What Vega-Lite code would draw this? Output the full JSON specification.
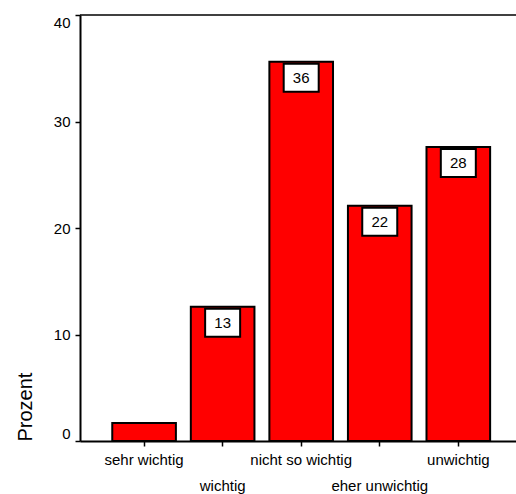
{
  "$schema": "https://vega.github.io/schema/vega-lite/v6.json",
  "width": 436,
  "height": 426,
  "autosize": {"type": "none"},
  "padding": {"left": 80, "top": 15, "right": 0, "bottom": 53},
  "background": "white",
  "config": {"view": {"stroke": null}, "font": "Liberation Sans"},
  "data": {
    "values": [
      {"Kategorie": "sehr wichtig", "Prozent": 1.7},
      {"Kategorie": "wichtig", "Prozent": 12.6},
      {"Kategorie": "nicht so wichtig", "Prozent": 35.6},
      {"Kategorie": "eher unwichtig", "Prozent": 22.1},
      {"Kategorie": "unwichtig", "Prozent": 27.6}
    ]
  },
  "layer": [
    {
      "mark": {"type": "bar", "fill": "#ff0000", "stroke": "black", "strokeWidth": 2},
      "encoding": {
        "x": {
          "field": "Kategorie", "type": "nominal", "sort": null,
          "scale": {"paddingInner": 0.19, "paddingOuter": 0.37, "align": 0.555},
          "axis": {
            "title": null, "labelAngle": 0, "labelFontSize": 15, "labelColor": "black",
            "tickSize": 5, "tickColor": "black", "tickWidth": 1.5,
            "domainColor": "black", "domainWidth": 2,
            "labelOverlap": false, "labelLimit": 0,
            "labelPadding": {"condition": {"test": "datum.value == 'wichtig' || datum.value == 'eher unwichtig'", "value": 32}, "value": 6}
          }
        },
        "y": {
          "field": "Prozent", "type": "quantitative",
          "scale": {"domain": [0, 40], "nice": false},
          "axis": {
            "title": "Prozent", "values": [0, 10, 20, 30, 40], "labelFlush": true,
            "tickSize": 5, "labelPadding": 5, "labelFontSize": 15, "labelColor": "black",
            "domainColor": "black", "domainWidth": 2, "tickColor": "black", "tickWidth": 1.5,
            "grid": false, "titleFontSize": 20, "titleFontWeight": "normal", "titleColor": "black",
            "titleX": -55, "titleY": 426, "titleAngle": -90, "titleAlign": "left", "titleBaseline": "middle"
          }
        }
      }
    },
    {
      "data": {"values": [{"top": 40}]},
      "mark": {"type": "rule", "color": "black", "strokeWidth": 1.5},
      "encoding": {"y": {"field": "top", "type": "quantitative"}}
    },
    {
      "transform": [{"filter": "datum.Prozent > 5"}],
      "mark": {"type": "point", "shape": "M-1,-0.8H1V0.8H-1Z", "size": 1225, "filled": true, "fill": "white", "stroke": "black", "strokeWidth": 2, "opacity": 1, "yOffset": 16},
      "encoding": {
        "x": {"field": "Kategorie", "type": "nominal", "sort": null},
        "y": {"field": "Prozent", "type": "quantitative"}
      }
    },
    {
      "transform": [{"filter": "datum.Prozent > 5"}],
      "mark": {"type": "text", "fontSize": 15, "color": "black", "baseline": "middle", "align": "center", "yOffset": 16},
      "encoding": {
        "x": {"field": "Kategorie", "type": "nominal", "sort": null},
        "y": {"field": "Prozent", "type": "quantitative"},
        "text": {"field": "Prozent", "type": "quantitative", "format": ".0f"}
      }
    }
  ]
}
